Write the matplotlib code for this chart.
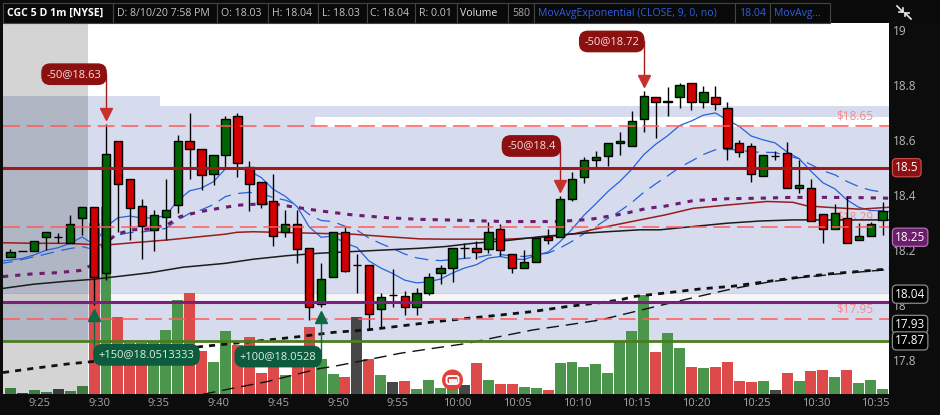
import matplotlib
matplotlib.use("Agg")
import matplotlib.pyplot as plt
from matplotlib.patches import Rectangle, FancyBboxPatch, Circle

plt.rcParams['font.family'] = ['Open Sans', 'DejaVu Sans']

# ---------------------------------------------------------------- data
# bar index: minutes relative to the 9:30 open bar
bar_index = list(range(-7, 67))

opens = [18.174, 18.196, 18.196, 18.247, 18.248, 18.225, 18.316,
         18.356, 18.116, 18.596, 18.459, 18.360, 18.272, 18.320, 18.363, 18.596, 18.567,
         18.476, 18.545, 18.688, 18.504, 18.447, 18.378, 18.266, 18.294, 18.207, 18.003,
         18.104, 18.265, 18.145, 18.145, 17.985, 18.036, 18.032, 17.995, 18.043, 18.116,
         18.134, 18.207, 18.207, 18.203, 18.276, 18.185, 18.134, 18.156, 18.248, 18.249,
         18.385, 18.465, 18.527, 18.544, 18.589, 18.578, 18.676, 18.756, 18.738, 18.756,
         18.807, 18.738, 18.756, 18.716, 18.589, 18.578, 18.471, 18.544, 18.552, 18.425,
         18.425, 18.331, 18.276, 18.317, 18.236, 18.250, 18.310]
highs = [18.206, 18.196, 18.235, 18.265, 18.264, 18.328, 18.357,
         18.356, 18.658, 18.596, 18.459, 18.386, 18.346, 18.459, 18.619, 18.698, 18.567,
         18.545, 18.688, 18.698, 18.526, 18.447, 18.476, 18.346, 18.346, 18.207, 18.155,
         18.265, 18.286, 18.186, 18.145, 18.043, 18.133, 18.053, 18.061, 18.116, 18.146,
         18.207, 18.225, 18.234, 18.304, 18.295, 18.185, 18.201, 18.246, 18.276, 18.397,
         18.486, 18.540, 18.561, 18.589, 18.631, 18.707, 18.777, 18.756, 18.795, 18.807,
         18.807, 18.798, 18.797, 18.737, 18.600, 18.589, 18.545, 18.561, 18.595, 18.527,
         18.458, 18.331, 18.368, 18.395, 18.300, 18.304, 18.374]
lows = [18.174, 18.196, 18.196, 18.201, 18.225, 18.225, 18.255,
        18.001, 18.092, 18.267, 18.237, 18.168, 18.197, 18.237, 18.334, 18.459, 18.419,
        18.437, 18.498, 18.465, 18.344, 18.355, 18.215, 18.247, 18.155, 17.946, 17.995,
        18.104, 18.121, 18.043, 17.910, 17.916, 17.995, 17.964, 17.964, 18.037, 18.077,
        18.086, 18.170, 18.167, 18.189, 18.177, 18.116, 18.134, 18.156, 18.221, 18.249,
        18.380, 18.446, 18.501, 18.506, 18.546, 18.578, 18.629, 18.607, 18.688, 18.716,
        18.710, 18.716, 18.710, 18.528, 18.538, 18.447, 18.468, 18.528, 18.425, 18.407,
        18.305, 18.225, 18.276, 18.225, 18.236, 18.250, 18.255]
closes = [18.195, 18.196, 18.235, 18.265, 18.248, 18.294, 18.357,
          18.101, 18.549, 18.442, 18.352, 18.288, 18.327, 18.345, 18.596, 18.567, 18.472,
          18.545, 18.676, 18.516, 18.442, 18.367, 18.251, 18.294, 18.206, 17.995, 18.094,
          18.265, 18.126, 18.145, 17.967, 18.029, 18.036, 17.995, 18.043, 18.101, 18.134,
          18.207, 18.207, 18.195, 18.265, 18.201, 18.134, 18.158, 18.246, 18.237, 18.385,
          18.458, 18.528, 18.538, 18.589, 18.596, 18.669, 18.761, 18.738, 18.741, 18.800,
          18.738, 18.774, 18.731, 18.571, 18.557, 18.476, 18.545, 18.544, 18.425, 18.436,
          18.305, 18.276, 18.334, 18.225, 18.250, 18.294, 18.344]
volume = [600, 100, 400, 230, 500, 300, 830,
          17050, 18650, 7700, 5100, 5100, 5200, 6450, 9450, 10150, 4350,
          3250, 6350, 4950, 5750, 2150, 3750, 1950, 3700, 6700, 3550,
          2050, 1750, 7750, 3550, 1950, 1250, 1350, 550, 1450, 650,
          1150, 950, 3150, 1450, 1050, 1050, 750, 650, 450, 3150,
          3250, 2750, 3050, 2150, 5350, 6350, 9950, 4250, 6150, 4650,
          2750, 2650, 2750, 3250, 1350, 1250, 1350, 450, 2150, 1350,
          2350, 2450, 1750, 2450, 1150, 1450, 550]

# exponential averages of the close, one value per bar (starting one bar earlier)
ema_index = list(range(-8, 67))
ema9 = [18.160, 18.164, 18.170, 18.183, 18.200, 18.209, 18.225, 18.248,
        18.220, 18.285, 18.318, 18.324, 18.317, 18.318, 18.325, 18.380, 18.416,
        18.426, 18.449, 18.496, 18.500, 18.488, 18.464, 18.421, 18.396, 18.358,
        18.285, 18.247, 18.251, 18.226, 18.210, 18.161, 18.135, 18.115, 18.091,
        18.081, 18.085, 18.095, 18.117, 18.135, 18.147, 18.171, 18.177, 18.168,
        18.166, 18.182, 18.193, 18.231, 18.276, 18.327, 18.369, 18.413, 18.450,
        18.494, 18.547, 18.585, 18.616, 18.653, 18.670, 18.691, 18.699, 18.673,
        18.650, 18.615, 18.601, 18.590, 18.557, 18.533, 18.487, 18.445, 18.423,
        18.383, 18.356, 18.344, 18.344]
ema20 = [18.150, 18.157, 18.166, 18.176, 18.186, 18.197, 18.206, 18.213,
         18.202, 18.235, 18.255, 18.264, 18.266, 18.272, 18.279, 18.309, 18.334,
         18.347, 18.366, 18.395, 18.406, 18.410, 18.406, 18.391, 18.382, 18.365,
         18.330, 18.308, 18.304, 18.287, 18.273, 18.244, 18.224, 18.206, 18.186,
         18.172, 18.165, 18.162, 18.166, 18.170, 18.173, 18.182, 18.184, 18.179,
         18.177, 18.184, 18.189, 18.208, 18.232, 18.260, 18.286, 18.315, 18.342,
         18.373, 18.410, 18.441, 18.470, 18.501, 18.524, 18.548, 18.565, 18.566,
         18.565, 18.557, 18.556, 18.555, 18.543, 18.533, 18.511, 18.489, 18.474,
         18.450, 18.431, 18.418, 18.411]

# slower studies, sampled along the chart
purple_x = [-7.62, -5.10, -3.10, -1.17, -0.17, 0.50, 1.09, 1.92, 3.26, 4.69, 6.11, 7.20,
            8.87, 10.96, 12.22, 14.73, 17.49, 18.91, 21.67, 24.52, 27.28, 29.37, 34.56,
            38.74, 41.51, 44.27, 46.28, 47.78, 50.13, 52.97, 55.73, 58.49, 61.34, 64.10, 66.53]
purple_y = [18.104, 18.114, 18.118, 18.126, 18.146, 18.201, 18.231, 18.259, 18.274, 18.277,
            18.292, 18.322, 18.340, 18.356, 18.364, 18.370, 18.352, 18.343, 18.328, 18.318,
            18.312, 18.310, 18.304, 18.304, 18.312, 18.332, 18.352, 18.360, 18.380, 18.387,
            18.389, 18.392, 18.392, 18.391, 18.389]
darkred_x = [-7.62, -5.10, -2.26, -0.50, 1.09, 3.26, 6.11, 8.87, 10.96, 11.97, 13.31, 16.15,
             18.91, 21.67, 24.52, 27.28, 29.37, 31.72, 34.56, 37.32, 40.08, 42.93, 45.69,
             47.78, 50.13, 52.97, 56.32, 58.49, 59.67, 61.34, 64.10, 66.53]
darkred_y = [18.227, 18.225, 18.225, 18.221, 18.219, 18.227, 18.237, 18.249, 18.258, 18.265,
             18.267, 18.264, 18.261, 18.258, 18.249, 18.241, 18.240, 18.240, 18.240, 18.246,
             18.259, 18.286, 18.310, 18.328, 18.352, 18.364, 18.377, 18.374, 18.361, 18.356,
             18.349, 18.356]
black_x = [-7.62, -5.10, -2.26, -0.08, 1.92, 4.69, 7.45, 10.96, 13.31, 16.15, 18.91, 21.67,
           24.52, 27.28, 29.37, 31.72, 34.56, 37.32, 40.08, 42.93, 45.69, 47.36, 50.13,
           52.97, 55.73, 58.49, 66.53]
black_y = [18.061, 18.076, 18.087, 18.094, 18.104, 18.118, 18.138, 18.152, 18.167, 18.180,
           18.189, 18.195, 18.201, 18.207, 18.213, 18.225, 18.235, 18.249, 18.259, 18.267,
           18.274, 18.274, 18.286, 18.298, 18.306, 18.310, 18.310]
blkdash_x = [-7.62, -5.10, -2.26, -0.08, 3.26, 6.11, 8.87, 11.63, 14.48, 17.24, 20.00,
             22.85, 25.61, 28.37, 31.21, 33.97, 36.74, 39.58, 42.34, 44.02, 45.10, 47.95,
             50.71, 53.47, 56.32, 59.08, 61.84, 64.69, 66.53]
blkdash_y = [17.755, 17.770, 17.786, 17.795, 17.813, 17.831, 17.849, 17.861, 17.873, 17.886,
             17.901, 17.910, 17.924, 17.939, 17.952, 17.964, 17.977, 17.995, 18.009, 18.019,
             18.031, 18.045, 18.059, 18.069, 18.086, 18.102, 18.115, 18.125, 18.132]
longdash_x = [9.12, 11.63, 14.48, 17.24, 18.91, 20.00, 22.85, 25.61, 28.37, 31.21, 33.97,
              36.74, 39.58, 42.34, 45.10, 47.95, 50.71, 53.47, 56.32, 59.08, 61.84, 64.69,
              66.53]
longdash_y = [17.676, 17.698, 17.722, 17.752, 17.770, 17.777, 17.801, 17.825, 17.843, 17.861,
              17.886, 17.910, 17.928, 17.946, 17.975, 18.005, 18.033, 18.060, 18.083, 18.100,
              18.112, 18.123, 18.130]

# price levels
dashed_levels = [18.65, 18.285, 17.95]
dashed_labels = ['$18.65', '$18.29', '$17.95']
resistance_level = 18.5
support_level = 18.01
floor_level = 17.87

# shaded zones (price bounds)
zone_low, zone_split_lo, zone_split_hi = 17.87, 18.01, 18.045
zone_top_early, zone_top_late = 18.761, 18.724
gap_lo, gap_hi = 18.649, 18.685

# trade markers: bar, side, label
trades = [(1, 'sell', '-50@18.63'),
          (46, 'sell', '-50@18.72'),
          (39, 'sell', '-50@18.4'),
          (0, 'buy', '+150@18.0513333'),
          (19, 'buy', '+100@18.0528')]

time_ticks = [-5, 0, 5, 10, 15, 20, 25, 30, 35, 40, 45, 50, 55, 60, 65]
time_labels = ['9:25', '9:30', '9:35', '9:40', '9:45', '9:50', '9:55', '10:00', '10:05',
               '10:10', '10:15', '10:20', '10:25', '10:30', '10:35']
price_ticks = [17.8, 18.0, 18.2, 18.4, 18.6, 18.8, 19.0]
price_tick_labels = ['17.8', '18', '18.2', '18.4', '18.6', '18.8', '19']

# right-axis value tags: price, text, fill, edge
value_tags = [(18.5, '18.5', '#8e1111', '#c44a4a'),
              (18.247, '18.25', '#6c1d6c', '#b070b0'),
              (18.04, '18.04', '#000000', '#8a8a8a'),
              (17.93, '17.93', '#000000', '#8a8a8a'),
              (17.87, '17.87', '#000000', '#8a8a8a')]

# ---------------------------------------------------------------- layout
W, H = 940, 415
L, R, T, B = 3, 889, 23, 394
X0, X1 = -7.62, 66.53
Y0, Y1 = 17.677, 19.026
px_x = (X1 - X0) / (R - L)
px_y = (Y1 - Y0) / (B - T)

fig = plt.figure(figsize=(W / 100, H / 100), dpi=100, facecolor='#0c0c0c')
pos = [L / W, 1 - B / H, (R - L) / W, (B - T) / H]


def bare(a):
    a.set_xticks([])
    a.set_yticks([])
    for s in a.spines.values():
        s.set_visible(False)


# background zones
bg = fig.add_axes(pos, zorder=0)
bg.set_facecolor('white')
bg.set_xlim(X0, X1)
bg.set_ylim(Y0, Y1)
bare(bg)
lav = '#d6dcee'
bg.fill_between([X0, 5.5], zone_split_hi, zone_top_early, color=lav, lw=0)
bg.fill_between([5.5, X1], zone_split_hi, zone_top_late, color=lav, lw=0)
bg.fill_between([18.5, X1], gap_lo, gap_hi, color='white', lw=0)
bg.fill_between([X0, X1], zone_low, zone_split_lo, color=lav, lw=0)
bg.fill_between([X0, X1], zone_split_lo, zone_split_hi, color='#f6f5f8', lw=0)
bg.axhline(zone_split_hi, color='#e4c8e6', lw=0.8)
bg.set_xlim(X0, X1)
bg.set_ylim(Y0, Y1)

# volume
vax = fig.add_axes(pos, zorder=1)
vax.set_facecolor('none')
vcol = []
for o, c in zip(opens, closes):
    vcol.append('#4b964c' if c > o else ('#dc4a4a' if c < o else '#474747'))
vax.bar(bar_index, volume, width=0.92, color=vcol, lw=0, zorder=2)
vax.axvspan(X0, -0.5, color='black', alpha=0.17, lw=0, zorder=5)
vax.set_xlim(X0, X1)
vax.set_ylim(0, (B - T) * 100)
bare(vax)

# price pane
ax = fig.add_axes(pos, zorder=2)
ax.set_facecolor('none')
for s in ax.spines.values():
    s.set_visible(False)

# studies
ax.plot(ema_index, ema9, color='#2862d8', lw=0.9, zorder=2)
ax.hlines(ema9[-1], ema_index[-1], X1, color='#2862d8', lw=0.9, zorder=2)
ax.plot(ema_index, ema20, color='#2862d8', lw=0.9, dashes=(11, 6), zorder=2)
ax.plot(purple_x, purple_y, color='#6e1c6e', lw=2.2, dashes=(1.7, 2.3), zorder=2)
ax.plot(darkred_x, darkred_y, color='#9a1c1c', lw=1.1, zorder=2)
ax.plot(black_x, black_y, color='#1c1c1c', lw=1.1, zorder=2)
ax.plot(blkdash_x, blkdash_y, color='#111111', lw=2.0, dashes=(2.2, 2.2), zorder=2)
ax.plot(longdash_x, longdash_y, color='#111111', lw=1.0, dashes=(9, 5), zorder=2)

# level labels
for lvl, txt in zip(dashed_levels, dashed_labels):
    ax.text(65.2, lvl + 10 * px_y, txt, ha='right', va='center', fontsize=8.5,
            color='#f28c8c', zorder=1.5)

# candles
up_c, dn_c = '#006400', '#d20000'
ax.vlines(bar_index, lows, highs, color='black', lw=1.0, zorder=3)
bottoms = [min(o, c) for o, c in zip(opens, closes)]
heights = [abs(c - o) for o, c in zip(opens, closes)]
bcol = [up_c if c >= o else dn_c for o, c in zip(opens, closes)]
ax.bar(bar_index, heights, bottom=bottoms, width=0.7, color=bcol, edgecolor='black',
       linewidth=1.0, zorder=4)

# price levels
for lvl in dashed_levels:
    ax.axhline(lvl, color='#ff5a5a', lw=1.1, dashes=(11, 4.5), zorder=5)
ax.axhline(resistance_level, color='#a31818', lw=2.2, zorder=5)
ax.axhline(support_level, color='#7c1f7c', lw=2.2, zorder=5)
ax.axhline(floor_level, color='#4d7d1f', lw=2.0, zorder=5)

# trade markers
for bar, side, label in trades:
    i = bar_index.index(bar)
    if side == 'sell':
        tri_y = highs[i] + 10 * px_y
        box_y = tri_y + 40 * px_y
        ax.plot([bar, bar], [tri_y + 3 * px_y, box_y], color='#a41c1c', lw=1.0, zorder=6)
        ax.plot(bar, tri_y, marker='v', ms=8, color='#c8302e', mec='#c8302e', zorder=6)
        ax.text(bar - 4.5 * px_x, box_y, label, ha='right', va='center', fontsize=8,
                color='#f4dede', zorder=7,
                bbox=dict(boxstyle='round,pad=0.42,rounding_size=0.75', fc='#8c1010',
                          ec='#8c1010'))
    else:
        tri_y = lows[i] - 10 * px_y
        box_y = tri_y - 40 * px_y
        ax.plot([bar, bar], [tri_y - 3 * px_y, box_y], color='#0e6a45', lw=1.0, zorder=6)
        ax.plot(bar, tri_y, marker='^', ms=8, color='#0e6a45', mec='#0e6a45', zorder=6)
        if bar < 10:
            tx, ha = bar + 4.5 * px_x, 'left'
        else:
            tx, ha = bar - 4.5 * px_x, 'right'
        ax.text(tx, box_y, label, ha=ha, va='center', fontsize=8, color='#dcf1e4',
                zorder=7,
                bbox=dict(boxstyle='round,pad=0.42,rounding_size=0.75', fc='#0b5b3c',
                          ec='#0b5b3c'))

# axes ticks
ax.set_xlim(X0, X1)
ax.set_ylim(Y0, Y1)
ax.set_xticks([m + 0.42 for m in time_ticks])
ax.set_xticklabels(time_labels)
ax.yaxis.tick_right()
ax.set_yticks(price_ticks)
ax.set_yticklabels(price_tick_labels)
ax.tick_params(axis='x', length=0, pad=3, labelsize=8, labelcolor='#a6a6a6')
ax.tick_params(axis='y', length=0, pad=3, labelsize=8.5, labelcolor='#b8b8b8')

for price, txt, fc, ec in value_tags:
    ax.text(1.0 + 6 / (R - L), price, txt, transform=ax.get_yaxis_transform(),
            ha='left', va='center', fontsize=8.5, color='white', zorder=8, clip_on=False,
            bbox=dict(boxstyle='round,pad=0.22,rounding_size=0.35', fc=fc, ec=ec, lw=0.9))

# ---------------------------------------------------------------- header (pixel overlay)
ov = fig.add_axes([0, 0, 1, 1], zorder=5)
ov.set_xlim(0, W)
ov.set_ylim(H, 0)
ov.axis('off')
ov.add_patch(Rectangle((0, 0), W, 23, fc='#0b0b0b', ec='none'))
cells = [(3, 113), (113, 217), (217, 268), (268, 318), (318, 367), (367, 415),
         (415, 457), (457, 508), (508, 534), (534, 735), (735, 770), (770, 830)]
for x0, x1 in cells:
    ov.add_patch(Rectangle((x0, 3), x1 - x0, 20, fc='#090909', ec='#444444', lw=0.8))
head = [(7, 'CGC 5 D 1m [NYSE]', 'white', 'bold'),
        (117, 'D: 8/10/20 7:58 PM', '#c4c4c4', 'normal'),
        (221, 'O: 18.03', '#c4c4c4', 'normal'),
        (272, 'H: 18.04', '#c4c4c4', 'normal'),
        (322, 'L: 18.03', '#c4c4c4', 'normal'),
        (370, 'C: 18.04', '#c4c4c4', 'normal'),
        (419, 'R: 0.01', '#c4c4c4', 'normal'),
        (460, 'Volume', '#e0e0e0', 'normal'),
        (512, '580', '#a6a6a6', 'normal'),
        (538, 'MovAvgExponential (CLOSE, 9, 0, no)', '#2f5fe0', 'normal'),
        (739, '18.04', '#2f5fe0', 'normal'),
        (774, 'MovAvg...', '#2f5fe0', 'normal')]
for x, s, c, w in head:
    ov.text(x, 13.5, s, ha='left', va='center', fontsize=7.6, color=c, fontweight=w)
# collapse icon
ov.plot([897, 903], [6, 12], color='#e8e8e8', lw=1.2)
ov.plot([903, 903, 899], [8.5, 12, 12], color='#e8e8e8', lw=1.2)
ov.plot([905, 911], [13, 19], color='#e8e8e8', lw=1.2)
ov.plot([905, 905, 909], [16.5, 13, 13], color='#e8e8e8', lw=1.2)
# event marker near the bottom of the chart
ev_x = L + (30 - X0) / px_x
ov.add_patch(Circle((ev_x, 380), 10.5, fc='#e2423d', ec='none'))
ov.add_patch(FancyBboxPatch((ev_x - 6, 376), 12, 8, boxstyle='round,pad=0,rounding_size=2.5',
                            fc='#e2423d', ec='white', lw=1.4))
ov.add_patch(Rectangle((ev_x - 4, 379), 8, 3.5, fc='#f4f4f4', ec='none'))

fig.savefig('out.png', dpi=100, facecolor=fig.get_facecolor())
